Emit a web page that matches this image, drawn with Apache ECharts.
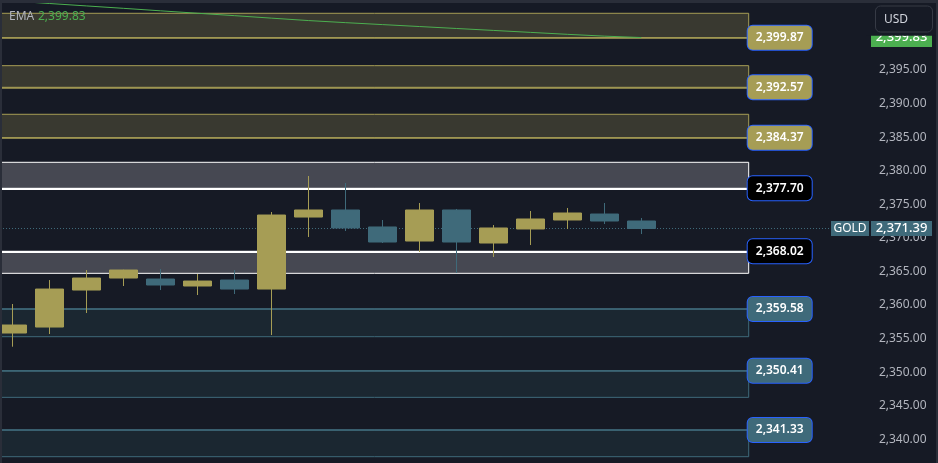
<!DOCTYPE html>
<html><head><meta charset="utf-8">
<script src="https://cdn.jsdelivr.net/npm/echarts@6/dist/echarts.min.js"></script>
<style>html,body{margin:0;padding:0;background:#161a25;overflow:hidden}#c{width:938px;height:463px}</style>
</head><body><div id="c"></div>
<script>
// ---------- data ----------
const opens  = [2355.83, 2356.72, 2362.23, 2364.02, 2363.87, 2362.83, 2363.72, 2362.38, 2373.10, 2374.15, 2371.62, 2369.53, 2374.15, 2369.23, 2371.32, 2372.66, 2373.55, 2372.51];
const closes = [2357.02, 2362.38, 2364.02, 2365.21, 2362.98, 2363.57, 2362.38, 2373.40, 2374.15, 2371.47, 2369.38, 2374.15, 2369.38, 2371.47, 2372.81, 2373.70, 2372.51, 2371.39];
const lows   = [2353.79, 2355.68, 2358.81, 2362.83, 2362.23, 2361.49, 2361.64, 2355.53, 2370.13, 2371.02, 2369.23, 2367.89, 2364.77, 2367.15, 2368.93, 2371.32, 2372.06, 2370.57];
const highs  = [2360.15, 2363.72, 2365.21, 2365.25, 2365.36, 2364.62, 2365.21, 2373.85, 2379.21, 2378.17, 2372.66, 2375.19, 2374.30, 2371.91, 2374.00, 2374.45, 2375.19, 2372.96];
const emaValues = [2405.27, 2404.90, 2404.54, 2404.18, 2403.81, 2403.45, 2403.09, 2402.72, 2402.36, 2402.05, 2401.76, 2401.47, 2401.18, 2400.89, 2400.60, 2400.31, 2400.04, 2399.83];

const zoneLow    = [2399.81, 2392.42, 2384.91, 2377.38, 2364.72, 2355.28, 2346.25, 2337.41];
const zoneHigh   = [2403.44, 2395.64, 2388.40, 2381.25, 2368.00, 2359.40, 2350.22, 2341.38];
const zoneLabels = [2399.87, 2392.57, 2384.37, 2377.70, 2368.02, 2359.58, 2350.41, 2341.33];
const zoneKinds  = ['supply', 'supply', 'supply', 'key', 'key', 'demand', 'demand', 'demand'];
const zoneEdges  = ['low', 'low', 'low', 'low', 'high', 'high', 'high', 'high'];

const lastPrice = 2371.39;
const emaLast = 2399.83;
const symbolName = 'GOLD';
const currency = 'USD';
const indicatorName = 'EMA';
const tickMin = 2340, tickMax = 2395, tickStep = 5;

// ---------- layout / style ----------
const FONT = "'Noto Sans', sans-serif";
const BG = '#161a25';
const BAR_PX = 37, FIRST_PX = 12.3, GRID_W = 831, ZONE_END_PX = 748.7;
const XMIN = -FIRST_PX / BAR_PX;
const XMAX = XMIN + GRID_W / BAR_PX;
const ZONE_END = XMIN + ZONE_END_PX / BAR_PX;
const YMIN = 2335, YMAX = 2405.42, GRID_H = 472.9;
const UP = '#a69d55', DOWN = '#3f6a7a', GREEN = '#4caf50';

const kindStyle = {
  supply: { fill: '#393930', border: '#a69d55', box: '#a69d55', edgeW: 1.5 },
  key:    { fill: '#464852', border: '#ffffff', box: '#000000', edgeW: 2 },
  demand: { fill: '#1b2731', border: '#3f6a7a', box: '#3f6a7a', edgeW: 1.5 }
};

const fmt = v => {
  const p = v.toFixed(2).split('.');
  return p[0].replace(/\B(?=(\d{3})+(?!\d))/g, ',') + '.' + p[1];
};

const areaData = zoneLow.map((lo, i) => {
  const st = kindStyle[zoneKinds[i]];
  return [
    { xAxis: XMIN, yAxis: zoneHigh[i], itemStyle: { color: st.fill, borderColor: st.border, borderWidth: 1 } },
    { xAxis: ZONE_END, yAxis: lo }
  ];
});

const lineData = zoneLow.map((lo, i) => {
  const st = kindStyle[zoneKinds[i]];
  const v = zoneEdges[i] === 'low' ? lo : zoneHigh[i];
  return [
    {
      xAxis: XMIN, yAxis: v,
      lineStyle: { color: st.border, width: st.edgeW, type: 'solid' },
      label: {
        show: true, position: 'end', distance: -1,
        formatter: '{t|' + fmt(zoneLabels[i]) + '}',
        backgroundColor: st.box, borderColor: '#2962ff', borderWidth: 1, borderRadius: 5,
        padding: [5, 8],
        rich: { t: { width: 48, align: 'center', color: '#ffffff', fontSize: 12, fontWeight: 600, fontFamily: FONT, lineHeight: 14 } }
      }
    },
    { xAxis: ZONE_END, yAxis: v }
  ];
});
lineData.push({ yAxis: lastPrice, lineStyle: { color: DOWN, width: 1, type: [1, 2] }, label: { show: false } });

const chart = echarts.init(document.getElementById('c'), null, { renderer: 'canvas' });
chart.setOption({
  backgroundColor: BG,
  animation: false,
  grid: { left: 0, top: 0, width: GRID_W, height: GRID_H, outerBoundsMode: 'none', containLabel: false },
  xAxis: { type: 'value', min: XMIN, max: XMAX, show: false },
  yAxis: {
    type: 'value', position: 'right', min: YMIN, max: YMAX, interval: tickStep,
    axisLine: { show: false }, axisTick: { show: false }, splitLine: { show: false },
    axisLabel: {
      margin: 926.5 - GRID_W, align: 'right', color: '#b2b5be', fontSize: 12, fontFamily: FONT,
      formatter: v => (v < tickMin || v > tickMax) ? '' : fmt(v)
    }
  },
  series: [
    {
      type: 'line', data: [], z: 1, clip: false, silent: true,
      markArea: { silent: true, data: areaData },
      markLine: { silent: true, symbol: ['none', 'none'], data: lineData }
    },
    {
      type: 'candlestick', z: 5,
      data: opens.map((o, i) => [i, o, closes[i], lows[i], highs[i]]),
      encode: { x: 0, y: [1, 2, 3, 4] },
      barWidth: 29,
      itemStyle: { color: UP, color0: DOWN, borderColor: UP, borderColor0: DOWN, borderWidth: 1 }
    },
    {
      type: 'line', z: 6, showSymbol: false, symbol: 'none',
      data: emaValues.map((v, i) => [i, v]),
      lineStyle: { color: GREEN, width: 1 }
    }
  ]
});

const yEma = chart.convertToPixel({ yAxisIndex: 0 }, emaLast);
const yLast = chart.convertToPixel({ yAxisIndex: 0 }, lastPrice);
const txt = (x, y, s, color, size, align, weight) => ({
  type: 'text', z: 101, x: x, y: y,
  style: { text: s, fill: color, font: (weight || 'normal') + ' ' + size + 'px ' + FONT, textAlign: align, textVerticalAlign: 'middle' }
});
chart.setOption({
  graphic: [
    { type: 'rect', z: 100, shape: { x: 871, y: yEma - 9.5, width: 61, height: 19 }, style: { fill: GREEN } },
    txt(901.5, yEma, fmt(emaLast), '#ffffff', 13, 'center', 500),
    { type: 'rect', z: 102, shape: { x: 866, y: 3, width: 70, height: 32.7 }, style: { fill: BG } },
    { type: 'rect', z: 103, shape: { x: 875.5, y: 6, width: 57, height: 26, r: 5 }, style: { fill: BG, stroke: '#363a45', lineWidth: 1 } },
    Object.assign(txt(884, 19.5, currency, '#d1d4dc', 12, 'left'), { z: 104 }),
    { type: 'rect', z: 100, shape: { x: 831, y: yLast - 7.5, width: 38, height: 15 }, style: { fill: DOWN } },
    txt(850, yLast, symbolName, '#ffffff', 12, 'center'),
    { type: 'rect', z: 100, shape: { x: 871, y: yLast - 7.5, width: 61, height: 15 }, style: { fill: DOWN } },
    txt(901.5, yLast, fmt(lastPrice), '#ffffff', 13, 'center', 500),
    txt(9, 17, indicatorName, '#b2b5be', 12, 'left'),
    txt(38, 17, fmt(emaLast), GREEN, 12, 'left'),
    { type: 'rect', z: 110, shape: { x: 0, y: 0, width: 938, height: 3 }, style: { fill: '#2a2e39' } },
    { type: 'rect', z: 110, shape: { x: 0, y: 0, width: 2, height: 463 }, style: { fill: '#2a2e39' } },
    { type: 'rect', z: 110, shape: { x: 936, y: 0, width: 2, height: 463 }, style: { fill: '#2a2e39' } }
  ]
});
</script></body></html>
